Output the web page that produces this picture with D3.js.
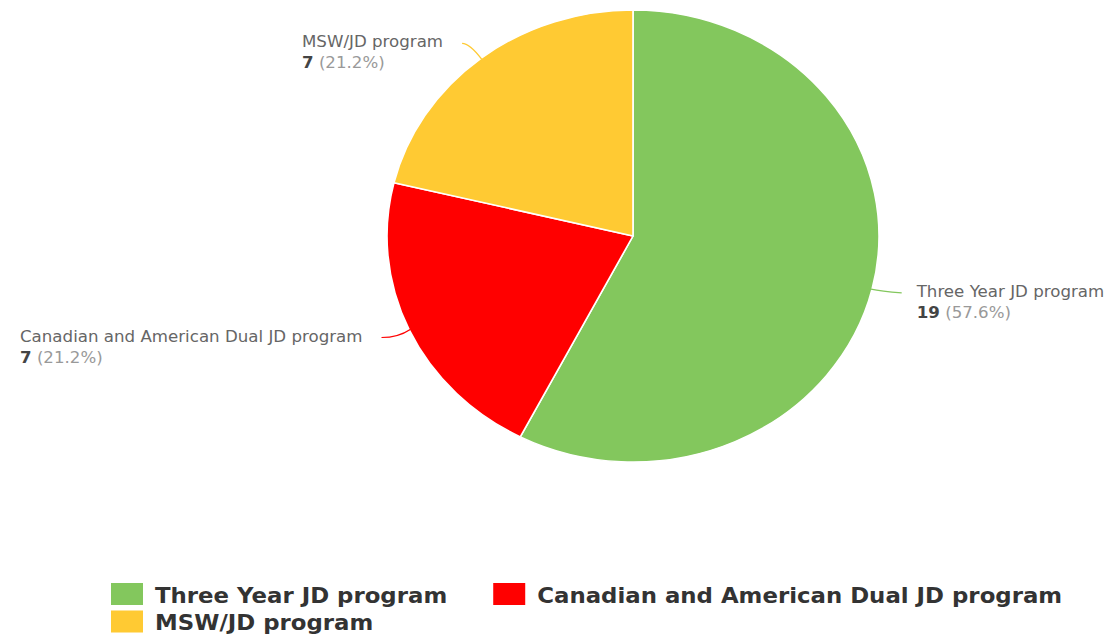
<!DOCTYPE html>
<html>
<head>
<meta charset="utf-8">
<script src="https://cdn.jsdelivr.net/npm/d3@7"></script>
<style>
  html, body { margin: 0; padding: 0; background: #fff; }
  svg { display: block; }
</style>
</head>
<body>
<svg id="chart" width="1113" height="639"></svg>
<script>
// Programme enrolment shares
const categories = ["Three Year JD program", "Canadian and American Dual JD program", "MSW/JD program"];
const values = [19, 7, 7];
const colors = ["#83c75d", "#ff0000", "#ffca33"];

const svg = d3.select("#chart");

// Whole chart is drawn slightly wider than tall
const sx = 246 / 226;
const root = svg.append("g").attr("transform", `scale(${sx},1)`);
const X = v => v / sx; // page x -> inner x

const cx = X(633), cy = 236, r = 226;

const total = d3.sum(values);
const pie = d3.pie().sort(null).value(d => d)(values);
const arc = d3.arc().innerRadius(0).outerRadius(r);

root.append("g")
  .attr("transform", `translate(${cx},${cy})`)
  .selectAll("path.slice")
  .data(pie)
  .join("path")
  .attr("class", "slice")
  .attr("d", arc)
  .attr("fill", (d, i) => colors[i])
  .attr("stroke", "#fff")
  .attr("stroke-width", 1.5)
  .attr("stroke-linejoin", "round");

function pt(a, rad) {
  return [cx + rad * Math.sin(a), cy - rad * Math.cos(a)];
}

// Data labels with connectors
const labelNudge = [-3, -4, 7];
const fmt = d3.format(".1f");
const labels = root.append("g")
  .attr("font-family", "DejaVu Sans, Verdana, sans-serif")
  .attr("font-size", 15.3);

pie.forEach((d, i) => {
  const mid = (d.startAngle + d.endAngle) / 2;
  const edge = pt(mid, r - 1);
  const anchor = pt(mid, r + 28);
  const ay = anchor[1] + labelNudge[i];
  const right = Math.sin(mid) > 0;
  const ctrl = [edge[0] + (right ? 9 : -11), right ? edge[1] + 2 : ay];
  labels.append("path")
    .attr("d", `M${edge[0]},${edge[1]} Q${ctrl[0]},${ctrl[1]} ${anchor[0]},${ay}`)
    .attr("fill", "none")
    .attr("stroke", colors[i])
    .attr("stroke-width", 1.2);

  const t = labels.append("text").attr("fill", "#666").text(categories[i]);
  const w = t.node().getComputedTextLength();
  const tx = right ? anchor[0] + X(15) : anchor[0] - X(19) - w;
  const base = ay + 4;
  t.attr("x", tx).attr("y", base);
  const t2 = labels.append("text").attr("x", tx).attr("y", base + 21);
  t2.append("tspan").attr("font-weight", "bold").attr("fill", "#444").text(values[i]);
  t2.append("tspan").attr("fill", "#999").text(` (${fmt(values[i] / total * 100)}%)`);
});

// Legend
const legend = root.append("g")
  .attr("font-family", "DejaVu Sans, Verdana, sans-serif")
  .attr("font-size", 21)
  .attr("font-weight", "bold");
const rows = [[0, 1], [2]];
rows.forEach((row, ri) => {
  let x = X(111);
  const y = 583 + ri * 27.5;
  row.forEach(i => {
    legend.append("rect")
      .attr("x", x).attr("y", y)
      .attr("width", X(32)).attr("height", 22)
      .attr("fill", colors[i]);
    const t = legend.append("text")
      .attr("x", x + X(44)).attr("y", y + 20)
      .attr("fill", "#333")
      .text(categories[i]);
    x += X(44) + t.node().getComputedTextLength() + X(46);
  });
});
</script>
</body>
</html>
